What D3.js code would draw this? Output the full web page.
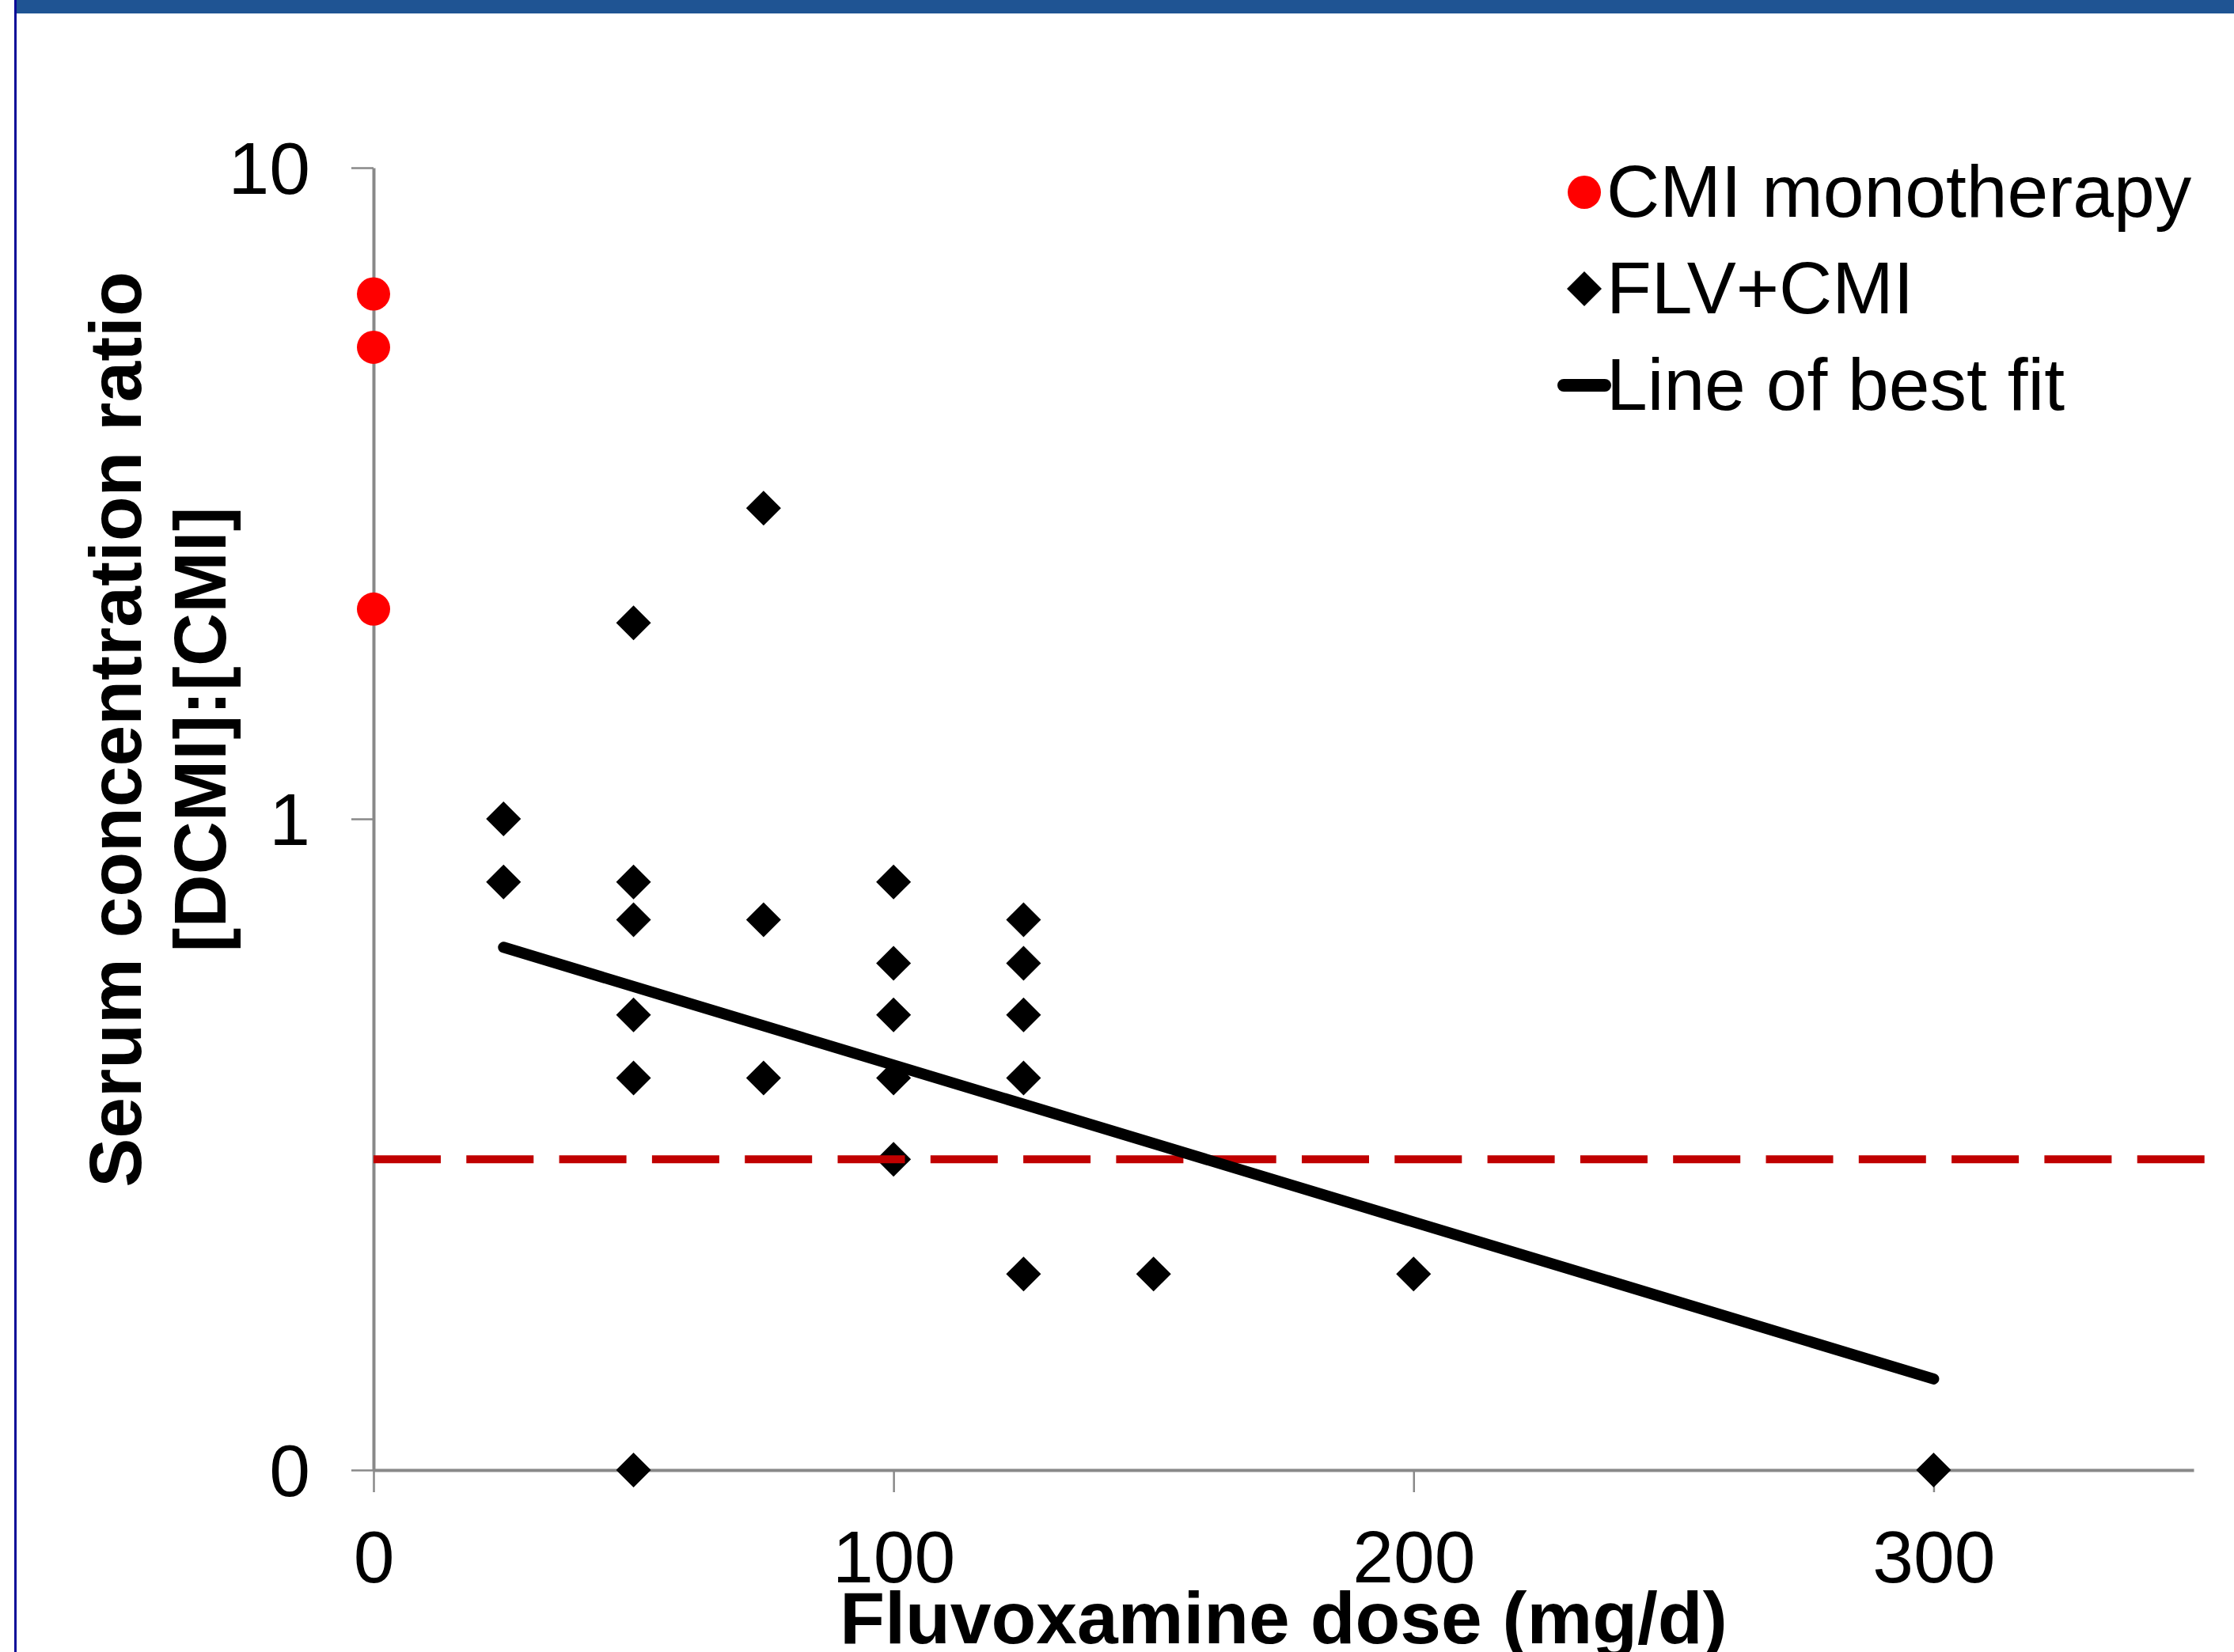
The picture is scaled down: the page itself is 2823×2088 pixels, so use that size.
<!DOCTYPE html>
<html>
<head>
<meta charset="utf-8">
<script src="https://cdn.jsdelivr.net/npm/d3@7"></script>
<style>
body { margin: 0; background: #fff; }
svg { display: block; font-family: Arial, "Liberation Sans", sans-serif; }
</style>
</head>
<body>
<svg id="chart" width="2823" height="2088"></svg>
<script>
// CMI monotherapy, all at dose 0
const monoDose = [0, 0, 0];
const monoRatio = [6.4, 5.3, 2.1];

// FLV + CMI
const comboDose = [25, 25, 50, 50, 50, 50, 50, 50, 75, 75, 75,
    100, 100, 100, 100, 100, 125, 125, 125, 125, 125, 150, 200, 300];
const comboRatio = [1.0, 0.8, 2.0, 0.8, 0.7, 0.5, 0.4, 0.1, 3.0, 0.7, 0.4,
    0.8, 0.6, 0.5, 0.4, 0.3, 0.7, 0.6, 0.5, 0.4, 0.2, 0.2, 0.2, 0.1];

// line of best fit (straight on the log axis)
const fitDose = [25, 300];
const fitRatio = [0.635, 0.138];

// dashed reference line
const refDose = [0, 352.5];
const refRatio = 0.3;

const xTicks = [0, 100, 200, 300];
const yTicks = [0.1, 1, 10];
const yTickLabels = ["0", "1", "10"];
const legendLabels = ["CMI monotherapy", "FLV+CMI", "Line of best fit"];

const svg = d3.select("#chart");
const axisGrey = "#898989";
const red = "#c00000";

// header band + left border of the slide
svg.append("rect").attr("x", 19).attr("y", 0).attr("width", 2804).attr("height", 17).attr("fill", "#1f5493");
svg.append("rect").attr("x", 18).attr("y", 0).attr("width", 3).attr("height", 2088).attr("fill", "#0b0b98");

const x = d3.scaleLinear().domain([0, 350]).range([472, 2772]);
const y = d3.scaleLog().domain([0.1, 10]).range([1858, 212]);

const yAxis = svg.append("g")
    .attr("transform", `translate(${x(0)},0)`)
    .call(d3.axisLeft(y)
        .tickValues(yTicks)
        .tickFormat((d, i) => yTickLabels[i])
        .tickSize(28)
        .tickSizeOuter(0)
        .tickPadding(52));

const xAxis = svg.append("g")
    .attr("transform", `translate(0,${y(0.1)})`)
    .call(d3.axisBottom(x)
        .tickValues(xTicks)
        .tickSize(28)
        .tickSizeOuter(0)
        .tickPadding(48));

[yAxis, xAxis].forEach((g) => {
    g.select(".domain").attr("stroke", axisGrey).attr("stroke-width", 4);
    g.selectAll(".tick line").attr("stroke", axisGrey).attr("stroke-width", 2.5);
    g.selectAll(".tick text")
        .attr("fill", "#000")
        .style("font-size", "93px")
        .style("font-family", "Arial, 'Liberation Sans', sans-serif");
});
yAxis.selectAll(".tick text").attr("dy", "0.35em");

// axis titles
svg.append("text")
    .attr("x", (x(0) + x(350)) / 2)
    .attr("y", 2077)
    .attr("text-anchor", "middle")
    .style("font-size", "93px")
    .style("font-weight", "bold")
    .text("Fluvoxamine dose (mg/d)");

const yTitle = ["Serum concentration ratio", "[DCMI]:[CMI]"];
svg.selectAll(".ytitle")
    .data(yTitle)
    .enter().append("text")
    .attr("class", "ytitle")
    .attr("transform", (d, i) => `translate(${178 + i * 107},922) rotate(-90)`)
    .attr("text-anchor", "middle")
    .style("font-size", "93px")
    .style("font-weight", "bold")
    .text((d) => d);

// FLV+CMI diamonds
const diamond = d3.symbol().type(d3.symbolSquare).size(970);
svg.append("g")
    .selectAll("path")
    .data(comboDose.map((d, i) => ({dose: d, ratio: comboRatio[i]})))
    .enter().append("path")
    .attr("d", diamond)
    .attr("transform", (d) => `translate(${x(d.dose)},${y(d.ratio)}) rotate(45)`)
    .attr("fill", "#000");

// CMI monotherapy dots
svg.append("g")
    .selectAll("circle")
    .data(monoDose.map((d, i) => ({dose: d, ratio: monoRatio[i]})))
    .enter().append("circle")
    .attr("cx", (d) => x(d.dose))
    .attr("cy", (d) => y(d.ratio))
    .attr("r", 21)
    .attr("fill", "#ff0000");

// dashed reference line
svg.append("line")
    .attr("x1", x(refDose[0]))
    .attr("x2", x(refDose[1]))
    .attr("y1", y(refRatio))
    .attr("y2", y(refRatio))
    .attr("stroke", red)
    .attr("stroke-width", 10)
    .attr("stroke-dasharray", "85 32.3");

// line of best fit
const fitLine = d3.line()
    .x((d) => x(d[0]))
    .y((d) => y(d[1]));
svg.append("path")
    .datum(fitDose.map((d, i) => [d, fitRatio[i]]))
    .attr("d", fitLine)
    .attr("fill", "none")
    .attr("stroke", "#000")
    .attr("stroke-width", 14)
    .attr("stroke-linecap", "round");

// legend
const legend = svg.append("g").attr("transform", "translate(2002,243)");
const rows = legend.selectAll("g")
    .data(legendLabels)
    .enter().append("g")
    .attr("transform", (d, i) => `translate(0,${i * 122})`);

rows.append("text")
    .attr("x", 28)
    .attr("y", 31)
    .style("font-size", "93px")
    .text((d) => d);

rows.filter((d, i) => i === 0).append("circle")
    .attr("r", 21)
    .attr("fill", "#ff0000");
rows.filter((d, i) => i === 1).append("path")
    .attr("d", diamond)
    .attr("transform", "rotate(45)")
    .attr("fill", "#000");
rows.filter((d, i) => i === 2).append("line")
    .attr("x1", -26)
    .attr("x2", 26)
    .attr("stroke", "#000")
    .attr("stroke-width", 16)
    .attr("stroke-linecap", "round");
</script>
</body>
</html>
